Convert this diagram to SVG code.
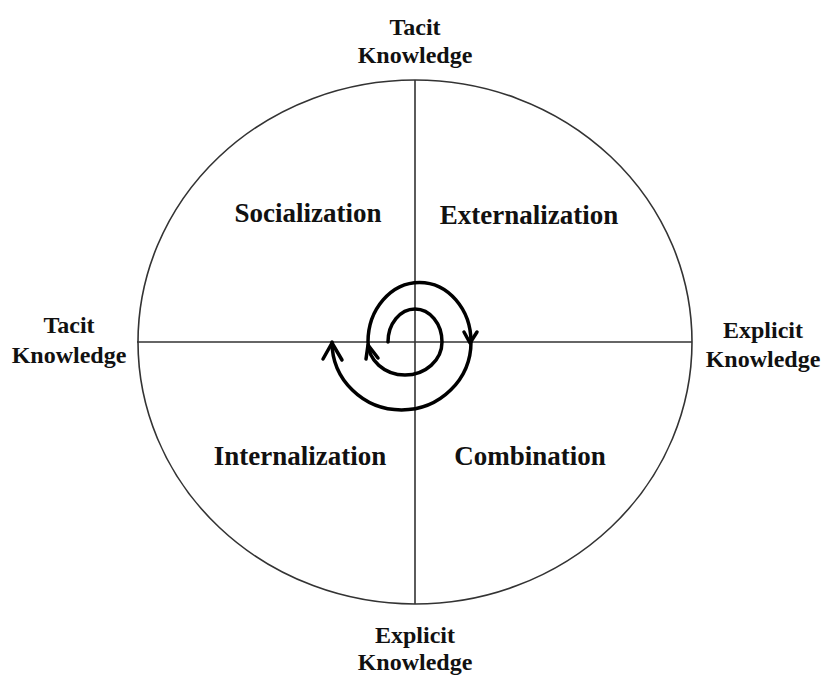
<svg xmlns="http://www.w3.org/2000/svg" width="827" height="686" viewBox="0 0 827 686">
<style>
.lbl{font-family:"Liberation Serif","Times New Roman",serif;font-weight:bold;fill:#111;text-anchor:middle}
.q{font-size:27px}
.a{font-size:24px}
.ax{stroke:#333;stroke-width:1.6;fill:none}
.sp{stroke:#000;stroke-width:3.5;fill:none;stroke-linecap:round;stroke-linejoin:round}
</style>
<rect width="827" height="686" fill="#fff"/>
<g id="circle">
<ellipse cx="415" cy="342" rx="277" ry="262" class="ax"/>
</g>
<g id="axes">
<line x1="137" y1="342" x2="692" y2="342" class="ax"/>
<line x1="415" y1="80" x2="415" y2="604" class="ax"/>
</g>
<g id="connectors">
<path class="sp" d="M388,342 A27,33 0 0 1 442,342 A37,33 0 0 1 368,342 A51,59 0 0 1 471,342 A69.5,68 0 0 1 332,342"/>
<path class="sp" d="M366,359 L368,345 L378,358"/>
<path class="sp" d="M464,332 L470,343 L477,332"/>
<path class="sp" d="M323,359 L332,343 L342,360"/>
</g>
<g id="socialization"><text class="lbl q" x="308" y="222">Socialization</text></g>
<g id="externalization"><text class="lbl q" x="529" y="224">Externalization</text></g>
<g id="internalization"><text class="lbl q" x="300" y="465">Internalization</text></g>
<g id="combination"><text class="lbl q" x="530" y="465">Combination</text></g>
<g id="top-label"><text class="lbl a" x="415" y="35">Tacit</text><text class="lbl a" x="415" y="63">Knowledge</text></g>
<g id="left-label"><text class="lbl a" x="69" y="333">Tacit</text><text class="lbl a" x="69" y="363">Knowledge</text></g>
<g id="right-label"><text class="lbl a" x="763" y="338">Explicit</text><text class="lbl a" x="763" y="367">Knowledge</text></g>
<g id="bottom-label"><text class="lbl a" x="415" y="643">Explicit</text><text class="lbl a" x="415" y="670">Knowledge</text></g>
</svg>
